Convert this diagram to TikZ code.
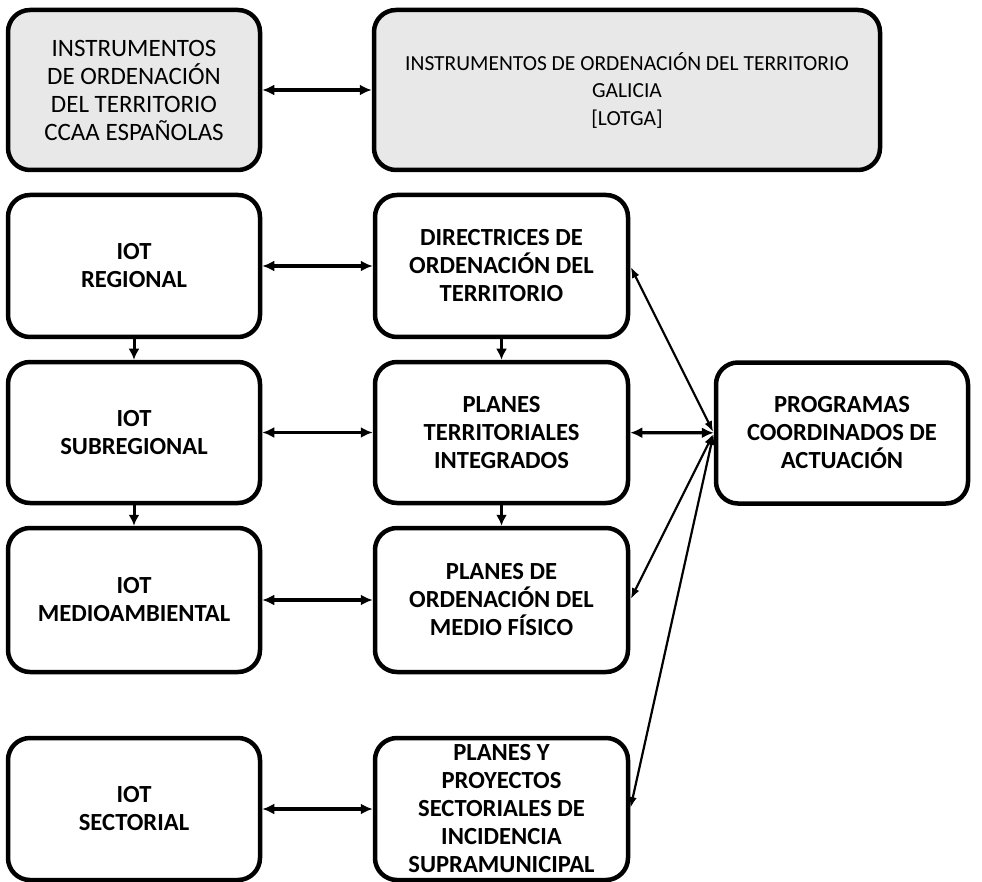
\documentclass[tikz,border=0pt]{standalone}
\usepackage{fontspec}
\setmainfont{Carlito}
\usetikzlibrary{arrows.meta}
\definecolor{boxgray}{HTML}{E8E8E8}
\tikzset{
  box/.style={draw=black, line width=4.5pt, rounded corners=22pt, align=center,
    inner sep=0pt, minimum width=252pt, font=\fontsize{24.6}{28}\selectfont\bfseries},
  topbox/.style={box, fill=boxgray, font=\fontsize{25}{28}\selectfont},
  topwide/.style={box, fill=boxgray, font=\fontsize{21.5}{27.5}\selectfont},
  thick arrow/.style={line width=3.3pt, {Latex[length=12pt,width=11pt]}-{Latex[length=12pt,width=11pt]}},
  down arrow/.style={line width=3pt, -{Latex[length=11pt,width=11pt]}},
  thin arrow/.style={line width=2.2pt, {Latex[length=11pt,width=8pt]}-{Latex[length=11pt,width=8pt]}, shorten <=1pt, shorten >=1pt}
}
\begin{document}
\begin{tikzpicture}[x=1pt,y=-1pt]
\useasboundingbox (0,0) rectangle (982,882);
\node[topbox, minimum height=160pt] (tl) at (134,90) {INSTRUMENTOS\\DE ORDENACIÓN\\DEL TERRITORIO\\CCAA ESPAÑOLAS};
\node[topwide, minimum width=506pt, minimum height=160pt] (tr) at (627,90) {INSTRUMENTOS DE ORDENACIÓN DEL TERRITORIO\\GALICIA\\{[LOTGA]}};
\node[box, minimum height=142pt] (r2l) at (134,266) {IOT\\REGIONAL};
\node[box, minimum width=253pt, minimum height=142pt] (r2m) at (501.5,266) {DIRECTRICES DE\\ORDENACIÓN DEL\\TERRITORIO};
\node[box, minimum height=141pt] (r3l) at (134,432.5) {IOT\\SUBREGIONAL};
\node[box, minimum width=253pt, minimum height=141pt] (r3m) at (501.5,432.5) {PLANES\\TERRITORIALES\\INTEGRADOS};
\node[box, minimum height=141pt] (prog) at (842,433) {PROGRAMAS\\COORDINADOS DE\\ACTUACIÓN};
\node[box, minimum height=144pt] (r4l) at (134,600) {IOT\\MEDIOAMBIENTAL};
\node[box, minimum width=253pt, minimum height=144pt] (r4m) at (501.5,600) {PLANES DE\\ORDENACIÓN DEL\\MEDIO FÍSICO};
\node[box, minimum height=142pt] (r5l) at (134,809) {IOT\\SECTORIAL};
\node[box, minimum width=253pt, minimum height=142pt] (r5m) at (501.5,809) {PLANES Y\\PROYECTOS\\SECTORIALES DE\\INCIDENCIA\\SUPRAMUNICIPAL};
% horizontal double arrows
\draw[thick arrow] (tl) -- (tr);
\draw[thick arrow] (r2l) -- (r2m);
\draw[thick arrow] (r3l) -- (r3m);
\draw[thick arrow] (r3m) -- (prog);
\draw[thick arrow] (r4l) -- (r4m);
\draw[thick arrow] (r5l) -- (r5m);
% vertical arrows
\draw[down arrow] (r2l) -- (r3l);
\draw[down arrow] (r3l) -- (r4l);
\draw[down arrow] (r2m) -- (r3m);
\draw[down arrow] (r3m) -- (r4m);
% diagonal arrows
\draw[thin arrow] (prog.west) -- (r2m.east);
\draw[thin arrow] (prog.west) -- (r4m.east);
\draw[thin arrow] (prog.west) -- (r5m.east);
\end{tikzpicture}
\end{document}
